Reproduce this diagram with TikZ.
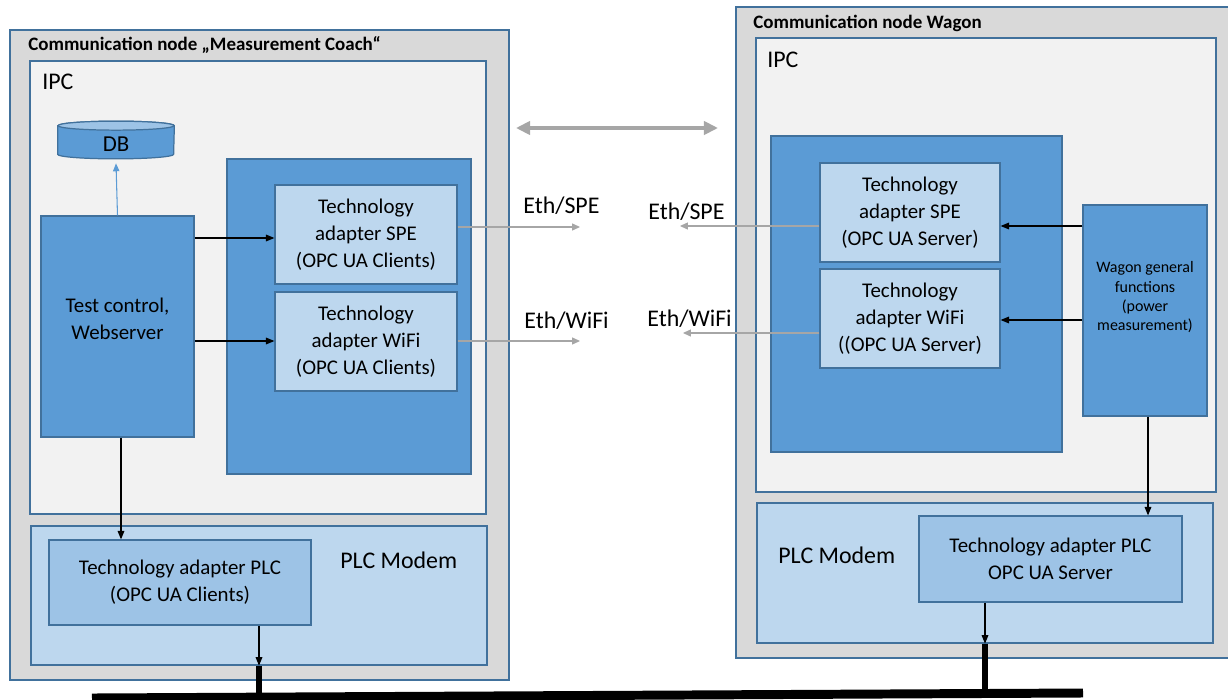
\documentclass[tikz,border=0pt]{standalone}
\usepackage{fontspec}
\setmainfont{Carlito}
\usetikzlibrary{positioning}
\usetikzlibrary{arrows.meta}

\definecolor{outergray}{HTML}{D9D9D9}
\definecolor{ipcgray}{HTML}{F2F2F2}
\definecolor{darkblue}{HTML}{5B9BD5}
\definecolor{paleblue}{HTML}{BDD7EE}
\definecolor{midblue}{HTML}{9DC3E6}
\definecolor{edgeblue}{HTML}{41719C}
\definecolor{linkgray}{HTML}{A6A6A6}

\tikzset{
  dims/.style 2 args={minimum width=#1*0.02cm, minimum height=#2*0.02cm},
  box/.style={draw=edgeblue, line width=0.7pt, inner sep=0pt, align=center,
    font=\fontsize{11.9}{15.3}\selectfont},
  nodebox/.style={box, fill=outergray},
  ipcbox/.style={box, fill=ipcgray},
  bluebox/.style={box, fill=darkblue},
  adapter/.style={box, fill=paleblue},
  plcbox/.style={box, fill=midblue},
  title/.style={inner sep=0pt, anchor=base west, font=\fontsize{10.8}{13}\selectfont\bfseries},
  biglabel/.style={inner sep=0pt, anchor=base west, font=\fontsize{13.6}{16}\selectfont},
  arr/.style={line width=0.6pt, -{Triangle[length=4.8pt,width=3.8pt]}},
  link/.style={linkgray, line width=0.6pt, -{Triangle[length=4.5pt,width=4pt]}},
  stub/.style={line width=3.4pt},
}

\begin{document}
\begin{tikzpicture}[x=0.02cm, y=-0.02cm]
\useasboundingbox (0,0) rectangle (1228,700);

% Measurement coach
\node[nodebox, dims={499}{650}] (coach) at (259.5,355) {};
\node[title] (coachT) at (28,50) {Communication node „Measurement Coach“};
\node[ipcbox, dims={456}{453}] (ipcL) at (258,287.5) {};
\node[biglabel] (ipcLT) at (42,89) {IPC};

% database
\node[inner sep=0pt, dims={116}{28}] (db) at (116,140) {};
\fill[darkblue, draw=edgeblue, line width=0.7pt] (db.north west) -- (db.south west)
  arc[start angle=180, end angle=360, x radius=1.16cm, y radius=0.09cm]
  -- (db.north east)
  arc[start angle=0, end angle=180, x radius=1.16cm, y radius=0.09cm] -- cycle;
\filldraw[fill=midblue, draw=edgeblue, line width=0.7pt] (db.north) ellipse[x radius=1.16cm, y radius=0.09cm];
\node[font=\fontsize{13}{15}\selectfont] (dbT) at ([yshift=-0.08cm]db.center) {DB};

\node[bluebox, dims={153}{221}] (ctrl) at (117.5,326.5) {};
\node[align=center, font=\fontsize{11.9}{15.3}\selectfont] (ctrlT) at ([yshift=0.16cm]ctrl.center) {Test control,\\Webserver};

\node[bluebox, dims={244}{315}] (clients) at (349,316.5) {};
\node[adapter, dims={182}{99}] (speC) at (366,234.5) {Technology\\adapter SPE\\(OPC UA Clients)};
\node[adapter, dims={182}{99}] (wifiC) at (366,341.5) {Technology\\adapter WiFi\\(OPC UA Clients)};

\node[adapter, dims={456}{139}] (modemL) at (259,595.5) {};
\node[biglabel] (modemLT) at (340,568) {PLC Modem};
\node[plcbox, dims={262}{85}] (plcC) at (180,582.5) {Technology adapter PLC\\(OPC UA Clients)};

% Wagon
\node[nodebox, dims={496}{651}] (wagon) at (984,332.5) {};
\node[title] (wagonT) at (753,28) {Communication node Wagon};
\node[ipcbox, dims={460}{454}] (ipcR) at (986,265) {};
\node[biglabel] (ipcRT) at (767,67) {IPC};

\node[bluebox, dims={291}{316}] (servers) at (916.5,294) {};
\node[adapter, dims={180}{99}] (speS) at (910,212.5) {Technology\\adapter SPE\\(OPC UA Server)};
\node[adapter, dims={180}{99}] (wifiS) at (910,318.5) {Technology\\adapter WiFi\\((OPC UA Server)};
\node[bluebox, dims={124}{211}] (general) at (1145,310.5) {};
\node[align=center, font=\fontsize{9.1}{11}\selectfont] (generalT) at ([yshift=0.26cm]general.center) {Wagon general\\functions\\(power\\measurement)};

\node[adapter, dims={456}{140}] (modemR) at (985,573) {};
\node[biglabel] (modemRT) at (778,563) {PLC Modem};
\node[plcbox, dims={263}{86}] (plcS) at (1050.5,559) {Technology adapter PLC\\OPC UA Server};

% links between the two nodes
\coordinate (linkL) at (516,128);
\coordinate (linkR) at (718,128);
\draw[linkgray, line width=2.3pt, {Triangle[length=8pt,width=7.5pt]}-{Triangle[length=8pt,width=7.5pt]}] (linkL) -- (linkR);

\coordinate (speOut) at (580,227);
\coordinate (wifiOut) at (580,341);
\coordinate (speIn) at (680,226);
\coordinate (wifiIn) at (683,333);
\draw[link] (speC.east |- speOut) -- (speOut);
\draw[link] (wifiC.east |- wifiOut) -- (wifiOut);
\draw[link] (speS.west |- speIn) -- (speIn);
\draw[link] (wifiS.west |- wifiIn) -- (wifiIn);
\node[biglabel] (speOutT) at (523,213) {Eth/SPE};
\node[biglabel] (wifiOutT) at (524,328) {Eth/WiFi};
\node[biglabel] (speInT) at (648,219) {Eth/SPE};
\node[biglabel] (wifiInT) at (647,326) {Eth/WiFi};

% arrows inside the nodes
\draw[darkblue, line width=0.6pt, -{Triangle[length=4.5pt,width=3.6pt]}] (ctrl.north) -- ([yshift=-0.18cm]db.south);
\draw[arr] (ctrl.east |- 0,238) -- (speC.west |- 0,238);
\draw[arr] (ctrl.east |- 0,341) -- (wifiC.west |- 0,341);
\draw[arr] (121,0 |- ctrl.south) -- (121,0 |- plcC.north);
\draw[arr] (259,0 |- plcC.south) -- (259,0 |- modemL.south);
\draw[arr] (general.west |- 0,226) -- (speS.east |- 0,226);
\draw[arr] (general.west |- 0,320) -- (wifiS.east |- 0,320);
\draw[arr] (1148,0 |- general.south) -- (1148,0 |- plcS.north);
\draw[arr] (985,0 |- plcS.south) -- (985,0 |- modemR.south);

% PLC bus
\coordinate (busL) at (92,698);
\coordinate (busR) at (1083,693);
\draw[line width=5.1pt] (busL) -- (busR);
\draw[stub] (259,0 |- modemL.south) -- (259,697);
\draw[stub] (985,0 |- modemR.south) -- (985,693);
\end{tikzpicture}
\end{document}
